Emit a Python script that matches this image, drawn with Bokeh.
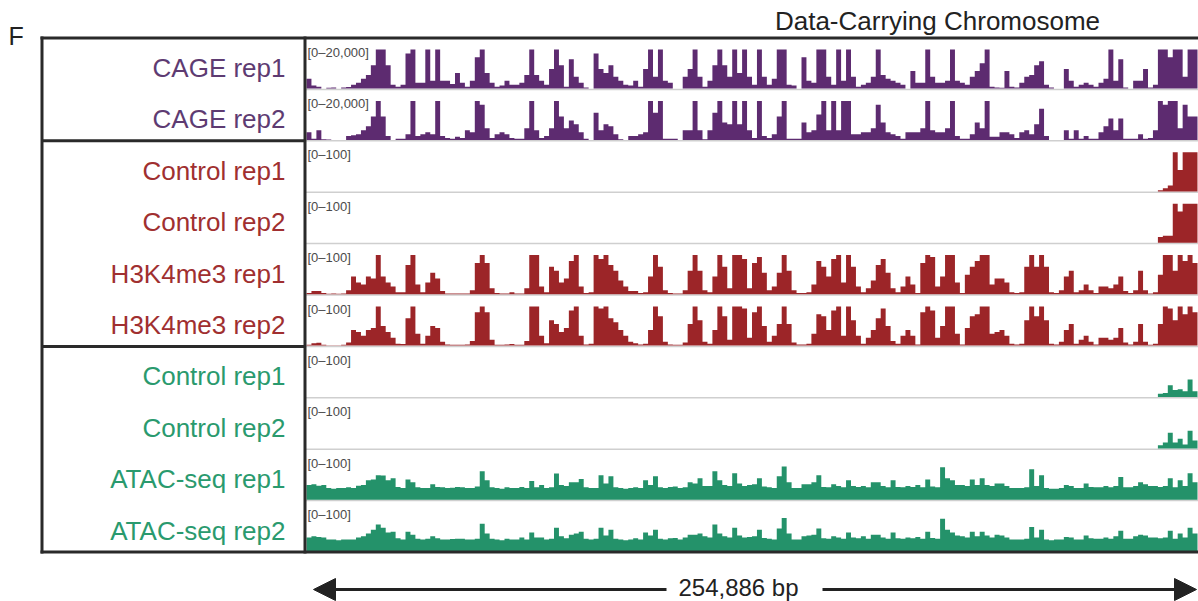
import numpy as np
from bokeh.plotting import figure
from bokeh.models import Range1d, Arrow, NormalHead, ColumnDataSource
from bokeh.core.properties import value
from bokeh.embed import file_html
from bokeh.resources import INLINE

# ---------------- data (180 equal bins) ----------------
region_bp = 254886
n_bins = 180

# CAGE signal in thousands of tags (track scale 0-20,000)
cage_rep1_k = [5, 1.6, 1, 0, 0.4, 0.6, 0, 0.6, 0.8, 2, 3, 5, 7, 12, 20, 20, 12, 2, 1, 2,
               18, 20, 3, 3, 20, 4, 20, 4, 4, 2.4, 8, 3, 1, 4, 16, 20, 8, 3, 1, 1.6,
               4, 2, 2, 3, 7, 20, 7, 4, 2, 10, 20, 12, 1, 15, 6, 3, 0.6, 0, 18, 10,
               8, 12, 6, 4, 2, 1.6, 4, 1, 10, 20, 6, 20, 4, 3, 0, 0, 6, 10, 20, 6,
               1, 4, 12, 20, 12, 6, 20, 8, 20, 6,
               2, 20, 6, 2, 5, 20, 20, 2, 1.6, 0, 16, 4, 3, 20, 20, 6, 2, 20, 4, 20,
               6, 1, 2, 3, 6, 20, 7, 5, 4, 3, 2, 0, 9, 3, 3, 20, 6, 3, 3, 4,
               20, 4, 3, 2, 6, 9, 13, 20, 1, 0.6, 0.4, 9, 1, 0.6, 3, 6, 7, 12, 14, 2,
               0.6, 0, 0, 10, 4, 1, 2, 3, 2, 1, 3, 5, 20, 4, 15, 0.6, 0, 4, 4, 10,
               0.6, 2, 20, 20, 16, 20, 20, 6, 20, 20]
cage_rep2_k = [4, 0.6, 5, 0.4, 0.2, 0, 0, 0, 2, 2.4, 3, 5, 7, 12, 20, 12, 2, 0, 0.6, 0.6,
               3, 20, 2, 3, 4, 3, 20, 2, 1, 0.6, 1.6, 1, 5, 4, 20, 18, 6, 1, 3, 4,
               3, 1, 0.6, 0.6, 6, 20, 5, 1, 2, 6, 20, 12, 6, 10, 8, 4, 0.6, 0, 14, 5,
               8, 7, 3, 0.4, 0, 2, 2, 3, 4, 20, 14, 20, 0.6, 0.6, 0.6, 0, 5, 5, 20, 5,
               0.4, 5, 14, 20, 9, 8, 20, 8, 20, 5,
               1, 20, 2, 1, 3, 12, 20, 0.6, 0.6, 0.6, 9, 4, 5, 13, 20, 5, 20, 5, 20, 20,
               3, 3, 4, 4, 6, 18, 9, 4, 3, 2, 0.6, 4, 4, 4, 6, 20, 5, 4, 4, 6,
               20, 2, 0.6, 0.6, 3, 9, 6, 20, 1.6, 1.6, 4, 4, 3, 1, 4, 5, 3, 8, 16, 2,
               0, 0, 0, 5, 0.6, 5, 0.6, 2, 0.6, 0.6, 4, 7, 11, 5, 11, 0.6, 0.6, 0.6, 3, 0.6,
               1, 5, 20, 18, 20, 20, 6, 18, 12, 12]

# H3K4me3 ChIP (0-100)
h3_ctrl_rep1 = [0] * 172 + [3, 8, 15, 100, 55, 100, 100, 100]
h3_ctrl_rep2 = [0] * 172 + [15, 18, 18, 100, 80, 100, 100, 100]
h3k4me3_rep1 = [3, 8, 8, 3, 1, 2, 1, 2, 10, 45, 30, 25, 45, 40, 100, 45, 30, 20, 5, 5,
                75, 100, 25, 5, 30, 55, 40, 8, 2, 2, 2, 2, 2, 10, 80, 100, 80, 15, 3, 2,
                2, 5, 2, 2, 15, 100, 100, 20, 5, 70, 60, 30, 40, 85, 100, 20, 3, 5, 100, 90,
                100, 75, 60, 35, 20, 8, 8, 3, 5, 45, 100, 70, 10, 3, 2, 2, 10, 60, 100, 60,
                10, 5, 45, 100, 70, 15, 100, 100, 90, 15,
                80, 95, 55, 10, 20, 55, 100, 60, 10, 3, 3, 5, 25, 85, 70, 45, 90, 100, 30, 100,
                70, 20, 5, 15, 35, 75, 90, 55, 15, 5, 20, 45, 25, 3, 80, 100, 95, 20, 45, 100,
                100, 30, 3, 50, 70, 85, 100, 100, 25, 40, 40, 30, 5, 3, 5, 70, 100, 70, 100, 70,
                5, 3, 10, 45, 60, 5, 10, 25, 10, 3, 20, 20, 15, 25, 45, 8, 3, 10, 60, 10,
                2, 5, 50, 100, 100, 60, 100, 85, 100, 80]
h3k4me3_rep2 = [2, 6, 7, 2, 1, 1, 1, 2, 8, 40, 35, 25, 40, 45, 100, 50, 35, 20, 5, 4,
                70, 100, 30, 5, 25, 50, 45, 10, 3, 2, 2, 2, 3, 12, 85, 100, 85, 15, 2, 2,
                3, 4, 2, 2, 12, 100, 100, 25, 6, 65, 55, 35, 45, 90, 100, 25, 3, 5, 100, 95,
                100, 70, 60, 40, 25, 10, 6, 3, 5, 40, 100, 75, 10, 3, 2, 2, 8, 55, 100, 65,
                10, 5, 40, 100, 75, 15, 100, 100, 95, 20,
                85, 100, 50, 10, 25, 55, 100, 55, 8, 3, 3, 5, 30, 80, 75, 40, 90, 100, 25, 100,
                65, 25, 5, 20, 40, 70, 95, 50, 12, 5, 25, 40, 25, 3, 85, 100, 90, 20, 50, 100,
                100, 30, 3, 45, 75, 80, 100, 100, 30, 35, 40, 25, 5, 3, 5, 65, 100, 75, 100, 65,
                5, 3, 10, 40, 55, 5, 15, 25, 10, 3, 20, 20, 15, 20, 45, 8, 3, 10, 55, 10,
                2, 5, 55, 100, 95, 65, 100, 80, 100, 85]

# ATAC-seq (0-100)
atac_ctrl_rep1 = [0] * 172 + [8, 10, 30, 18, 20, 15, 45, 15]
atac_ctrl_rep2 = [0] * 172 + [8, 15, 40, 15, 25, 10, 45, 20]
atac_rep1 = [38, 40, 36, 38, 30, 28, 30, 30, 32, 30, 36, 38, 50, 52, 63, 62, 50, 55, 33, 30,
             52, 45, 32, 30, 30, 40, 33, 32, 30, 31, 33, 32, 30, 30, 34, 73, 50, 32, 30, 28,
             32, 30, 30, 33, 30, 48, 32, 38, 30, 32, 67, 38, 35, 45, 45, 53, 32, 30, 30, 63,
             42, 60, 32, 30, 28, 30, 32, 30, 50, 38, 60, 32, 30, 33, 34, 30, 32, 45, 42, 55,
             35, 35, 73, 50, 38, 35, 68, 42, 35, 38,
             40, 55, 34, 32, 30, 60, 85, 45, 30, 30, 40, 40, 45, 63, 33, 32, 40, 35, 32, 50,
             35, 33, 35, 32, 45, 45, 35, 32, 50, 33, 32, 35, 33, 38, 32, 52, 34, 32, 83, 55,
             50, 38, 38, 35, 52, 38, 55, 38, 35, 42, 42, 35, 30, 30, 30, 32, 78, 35, 63, 30,
             28, 28, 30, 38, 35, 30, 30, 42, 33, 32, 32, 35, 32, 35, 58, 32, 32, 35, 45, 40,
             35, 35, 33, 35, 55, 32, 50, 35, 68, 45]
atac_rep2 = [35, 38, 36, 35, 30, 30, 28, 30, 30, 30, 35, 38, 45, 55, 68, 60, 48, 50, 33, 30,
             50, 42, 32, 30, 32, 38, 33, 30, 30, 31, 32, 32, 30, 30, 32, 70, 45, 32, 30, 28,
             32, 30, 30, 35, 30, 48, 35, 35, 30, 32, 60, 38, 33, 42, 45, 50, 32, 30, 32, 60,
             40, 55, 32, 30, 28, 30, 33, 30, 48, 40, 55, 32, 30, 33, 34, 30, 35, 42, 42, 45,
             38, 35, 68, 45, 38, 35, 60, 40, 35, 36,
             38, 55, 34, 32, 30, 58, 85, 45, 30, 30, 38, 40, 42, 58, 33, 32, 38, 35, 32, 48,
             35, 33, 38, 32, 42, 42, 35, 32, 48, 33, 32, 35, 33, 36, 32, 50, 34, 32, 83, 55,
             48, 40, 38, 35, 50, 38, 50, 40, 35, 42, 40, 35, 30, 30, 30, 32, 62, 35, 55, 30,
             28, 30, 30, 36, 35, 30, 30, 40, 33, 32, 32, 35, 32, 38, 52, 32, 32, 38, 42, 40,
             35, 35, 33, 35, 52, 32, 45, 35, 60, 45]

track_names = ["CAGE rep1", "CAGE rep2", "Control rep1", "Control rep2",
               "H3K4me3 rep1", "H3K4me3 rep2", "Control rep1", "Control rep2",
               "ATAC-seq rep1", "ATAC-seq rep2"]
track_values = [cage_rep1_k, cage_rep2_k, h3_ctrl_rep1, h3_ctrl_rep2,
                h3k4me3_rep1, h3k4me3_rep2, atac_ctrl_rep1, atac_ctrl_rep2,
                atac_rep1, atac_rep2]
track_max = [20, 20, 100, 100, 100, 100, 100, 100, 100, 100]
track_range_labels = ["[0\u201320,000]", "[0\u201320,000]"] + ["[0\u2013100]"] * 8
track_group = [0, 0, 1, 1, 1, 1, 2, 2, 2, 2]

title = "Data-Carrying Chromosome"
panel_letter = "F"
scale_label = "254,886 bp"

# ---------------- styles ----------------
FILL = ["#5d2b70", "#9c2528", "#24926a"]
TEXT = ["#5e3b72", "#a02f30", "#2a9a6e"]
FRAME = "#2a2a2a"
FONT = "Liberation Sans"

W, H = 1198, 601
FRAME_L, LABEL_R = 41.5, 304.5
DATA_L, DATA_R = 306.0, 1197.0
TOP, ROW_H = 37.5, 51.4
BOTTOM = TOP + 10 * ROW_H

bp_per_px = region_bp / (DATA_R - DATA_L)
edges = np.linspace(0, region_bp, n_bins + 1)

p = figure(width=W, height=H, x_range=Range1d(0, W), y_range=Range1d(H, 0),
           output_backend="svg", toolbar_location=None, min_border=0,
           x_axis_location=None, y_axis_location=None)
p.outline_line_color = None
p.xgrid.visible = False
p.ygrid.visible = False
p.background_fill_color = "white"
p.border_fill_color = "white"

p.extra_x_ranges = {"bp": Range1d(-DATA_L * bp_per_px, (W - DATA_L) * bp_per_px)}
yr = {}
for k in range(10):
    top = TOP + k * ROW_H
    b = top + ROW_H - 0.8          # baseline pixel
    t = top + 11.5                 # full-scale pixel
    vmax = track_max[k]
    yr[f"t{k}"] = Range1d(vmax * (b - H) / (b - t), vmax * b / (b - t))
p.extra_y_ranges = yr

# thin grey track separators in the data area
sep_y = [TOP + (k + 1) * ROW_H for k in range(9)]
p.segment(x0=[LABEL_R] * 9, y0=sep_y, x1=[W] * 9, y1=sep_y,
          line_color="#cfcfcf", line_width=1.5)

# data tracks
for k in range(10):
    vals = list(np.minimum(np.array(track_values[k], dtype=float), track_max[k]))
    vals = vals + [vals[-1]]
    p.varea_step(x=list(edges), y1=[0] * (n_bins + 1), y2=vals, step_mode="after",
                 fill_color=FILL[track_group[k]], x_range_name="bp", y_range_name=f"t{k}")

# frame
fx0 = [FRAME_L - 1.5, FRAME_L - 1.5, FRAME_L, LABEL_R, FRAME_L, FRAME_L]
fy0 = [TOP, BOTTOM, TOP - 1.5, TOP - 1.5, TOP + 2 * ROW_H, TOP + 6 * ROW_H]
fx1 = [W, W, FRAME_L, LABEL_R, LABEL_R, LABEL_R]
fy1 = [TOP, BOTTOM, BOTTOM + 1.5, BOTTOM + 1.5, TOP + 2 * ROW_H, TOP + 6 * ROW_H]
p.segment(x0=fx0, y0=fy0, x1=fx1, y1=fy1, line_color=FRAME, line_width=3)

# track names
name_src = ColumnDataSource(dict(
    x=[285] * 10,
    y=[TOP + k * ROW_H + 30 for k in range(10)],
    text=track_names,
    color=[TEXT[g] for g in track_group]))
p.text(x="x", y="y", text="text", text_color="color", source=name_src,
       text_align="right", text_baseline="middle",
       text_font=value(FONT), text_font_size="26px")

# data ranges
rng_src = ColumnDataSource(dict(
    x=[307] * 10,
    y=[TOP + k * ROW_H + 6.5 for k in range(10)],
    text=track_range_labels))
p.text(x="x", y="y", text="text", source=rng_src, text_color="#4a4a4a",
       text_align="left", text_baseline="top",
       text_font=value(FONT), text_font_size="13px")

# title and panel letter
p.text(x=[937], y=[20], text=[title], text_align="center", text_baseline="middle",
       text_font=value(FONT), text_font_size="26px", text_color="#222222")
p.text(x=[8], y=[35], text=[panel_letter], text_align="left", text_baseline="middle",
       text_font=value(FONT), text_font_size="25px", text_color="#222222")

# scale bar
p.text(x=[738], y=[587], text=[scale_label], text_align="center", text_baseline="middle",
       text_font=value(FONT), text_font_size="24px", text_color="#222222")
for xs, xe in [(666, 313), (822, 1196)]:
    p.add_layout(Arrow(end=NormalHead(size=22, fill_color="#222222", line_color="#222222"),
                       x_start=xs, y_start=589, x_end=xe, y_end=589,
                       line_width=3, line_color="#222222"))

open("out.html", "w").write(file_html(p, INLINE))
